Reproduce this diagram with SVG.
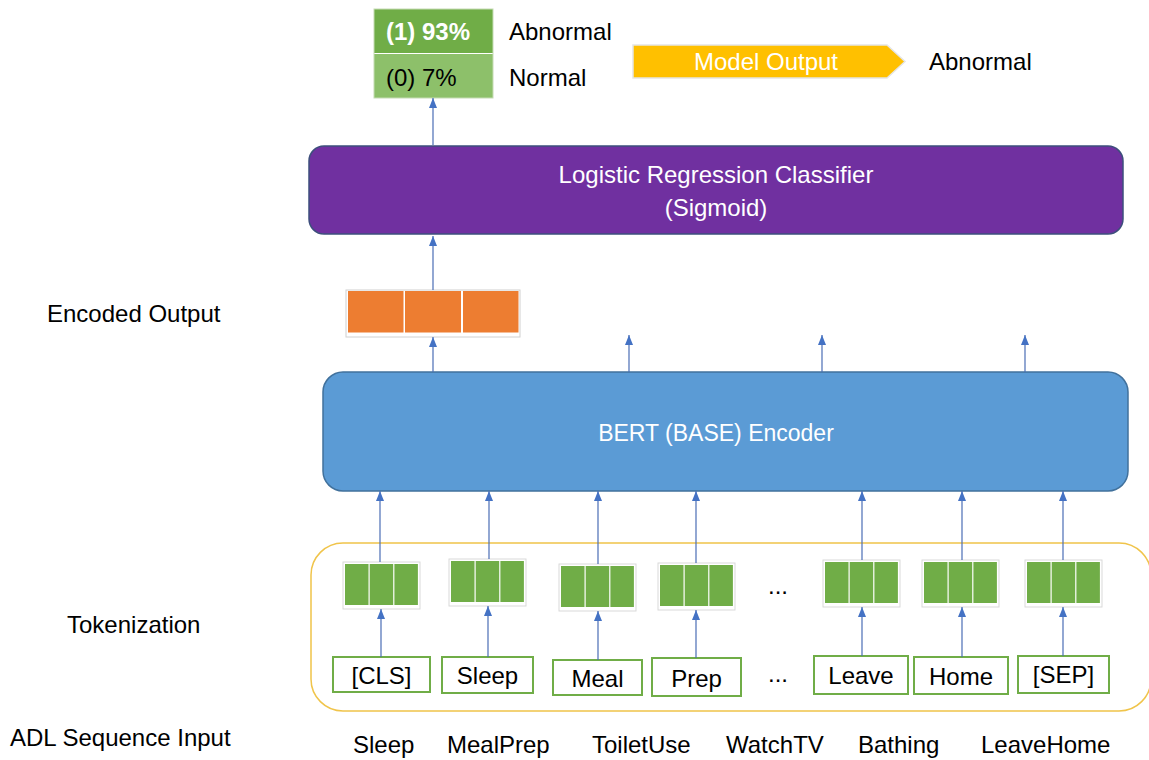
<svg xmlns="http://www.w3.org/2000/svg" width="1149" height="760" viewBox="0 0 1149 760">
<style>
text{font-family:"Liberation Sans",Arial,sans-serif;font-size:24px;fill:#000}
.w{fill:#fff}
.c{text-anchor:middle}
.con line{stroke:#4a6db5;stroke-width:1.2;fill:none}
.emb{fill:#fff;stroke:#d9d9d9;stroke-width:1}
.cell{fill:#70ad47}
.ocell{fill:#ed7d31}
.word{fill:#fff;stroke:#70ad47;stroke-width:2}
</style>
<defs>
<marker id="ah" markerUnits="userSpaceOnUse" viewBox="0 0 10 8" markerWidth="10" markerHeight="8" refX="10" refY="4" orient="auto"><path d="M0,0 L10,4 L0,8 z" fill="#4472c4"/></marker>
<g id="embT">
<rect class="emb" x="0" y="0" width="77" height="47"/>
<rect class="cell" x="2" y="2" width="23.5" height="41"/>
<rect class="cell" x="26.7" y="2" width="23.5" height="41"/>
<rect class="cell" x="51.4" y="2" width="23.5" height="41"/>
</g>
</defs>
<rect width="1149" height="760" fill="#fff"/>

<g id="prob">
<rect x="374" y="9" width="119" height="44" fill="#70ad47"/>
<rect x="374" y="54" width="119" height="44" fill="#8dc06a"/>
<line x1="374" y1="53.5" x2="493" y2="53.5" stroke="#fff" stroke-width="1"/>
<rect x="374" y="9" width="119" height="89" fill="none" stroke="#c5dcb4" stroke-width="1"/>
<text x="386" y="40" class="w" style="font-weight:bold">(1) 93%</text>
<text x="386" y="86">(0) 7%</text>
<text x="509" y="40">Abnormal</text>
<text x="509" y="86">Normal</text>
</g>

<g id="modelOutput">
<path d="M633,45 L887,45 L905,61.5 L887,78 L633,78 z" fill="#ffc000" stroke="#e5e5e5" stroke-width="1.5"/>
<text x="766" y="70" class="w c">Model Output</text>
<text x="929" y="70">Abnormal</text>
</g>

<g id="classifier">
<rect x="309" y="146" width="814" height="88" rx="15" fill="#7030a0" stroke="#3d4f7c" stroke-width="1.5"/>
<text x="716" y="183" class="w c">Logistic Regression Classifier</text>
<text x="716" y="216" class="w c">(Sigmoid)</text>
</g>

<g id="encodedOutput">
<rect x="346" y="290" width="174" height="47" fill="#fff" stroke="#d0d0d0" stroke-width="1"/>
<rect class="ocell" x="348" y="291" width="55.5" height="41.5"/>
<rect class="ocell" x="405" y="291" width="56" height="41.5"/>
<rect class="ocell" x="463" y="291" width="55.5" height="41.5"/>
</g>
<text x="47" y="322">Encoded Output</text>

<g id="bert">
<rect x="323" y="372" width="805" height="119" rx="20" fill="#5b9bd5" stroke="#41719c" stroke-width="1.5"/>
<text x="716" y="441" class="w c" style="font-size:23px">BERT (BASE) Encoder</text>
</g>

<g id="tokenization">
<rect x="311" y="543" width="840" height="168" rx="32" fill="none" stroke="#f0c44a" stroke-width="1.5"/>
</g>
<text x="67" y="633">Tokenization</text>

<g id="embeddings">
<use href="#embT" x="343" y="562"/>
<use href="#embT" x="449" y="559"/>
<use href="#embT" x="559" y="564"/>
<use href="#embT" x="658" y="563"/>
<use href="#embT" x="823" y="560"/>
<use href="#embT" x="922" y="560"/>
<use href="#embT" x="1025" y="560"/>
<text x="778" y="594" class="c">...</text>
</g>

<g id="w-cls"><rect class="word" x="333" y="657" width="97" height="35"/><text x="381.5" y="684" class="c">[CLS]</text></g>
<g id="w-sleep"><rect class="word" x="442" y="657" width="91" height="36"/><text x="487.5" y="684" class="c">Sleep</text></g>
<g id="w-meal"><rect class="word" x="553" y="660" width="89" height="35"/><text x="597.5" y="687" class="c">Meal</text></g>
<g id="w-prep"><rect class="word" x="652" y="658" width="89" height="38"/><text x="696.5" y="687" class="c">Prep</text></g>
<text x="778" y="682" class="c">...</text>
<g id="w-leave"><rect class="word" x="814" y="656" width="94" height="38"/><text x="861" y="684" class="c">Leave</text></g>
<g id="w-home"><rect class="word" x="914" y="657" width="94" height="37"/><text x="961" y="685" class="c">Home</text></g>
<g id="w-sep"><rect class="word" x="1018" y="656" width="91" height="37"/><text x="1063.5" y="683" class="c">[SEP]</text></g>

<g id="inputs">
<text x="10" y="746">ADL Sequence Input</text>
<text x="353" y="753">Sleep</text>
<text x="447" y="753">MealPrep</text>
<text x="592" y="753">ToiletUse</text>
<text x="726" y="753">WatchTV</text>
<text x="858" y="753">Bathing</text>
<text x="981" y="753">LeaveHome</text>
</g>

<g id="connectors" class="con">
<line x1="433" y1="145" x2="433" y2="98" marker-end="url(#ah)"/>
<line x1="433" y1="290" x2="433" y2="236" marker-end="url(#ah)"/>
<line x1="433" y1="372" x2="433" y2="337" marker-end="url(#ah)"/>
<line x1="629" y1="372" x2="629" y2="335" marker-end="url(#ah)"/>
<line x1="822" y1="372" x2="822" y2="335" marker-end="url(#ah)"/>
<line x1="1025" y1="372" x2="1025" y2="335" marker-end="url(#ah)"/>
<line x1="380" y1="562" x2="380" y2="491" marker-end="url(#ah)"/>
<line x1="489" y1="559" x2="489" y2="491" marker-end="url(#ah)"/>
<line x1="598" y1="564" x2="598" y2="491" marker-end="url(#ah)"/>
<line x1="696" y1="563" x2="696" y2="491" marker-end="url(#ah)"/>
<line x1="862" y1="560" x2="862" y2="491" marker-end="url(#ah)"/>
<line x1="962" y1="560" x2="962" y2="491" marker-end="url(#ah)"/>
<line x1="1063" y1="560" x2="1063" y2="491" marker-end="url(#ah)"/>
<line x1="381" y1="657" x2="381" y2="609" marker-end="url(#ah)"/>
<line x1="488" y1="657" x2="488" y2="606" marker-end="url(#ah)"/>
<line x1="598" y1="660" x2="598" y2="611" marker-end="url(#ah)"/>
<line x1="696" y1="658" x2="696" y2="610" marker-end="url(#ah)"/>
<line x1="862" y1="656" x2="862" y2="607" marker-end="url(#ah)"/>
<line x1="962" y1="657" x2="962" y2="607" marker-end="url(#ah)"/>
<line x1="1063" y1="656" x2="1063" y2="607" marker-end="url(#ah)"/>
</g>
</svg>
